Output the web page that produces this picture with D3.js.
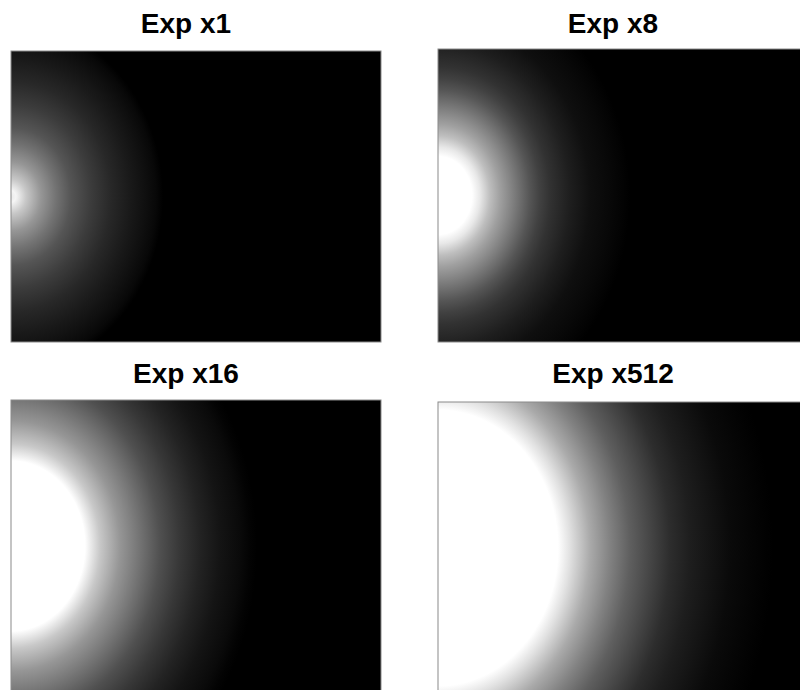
<!DOCTYPE html>
<html>
<head>
    <title>exposure panels</title>
    <script src="https://d3js.org/d3.v7.min.js"></script>
    <style>
        body { margin: 0; background: #fff; }
        .title {
            font-family: 'Liberation Sans', Arial, sans-serif;
            font-size: 28px;
            font-weight: bold;
            fill: #000;
        }
    </style>
</head>
<body>
    <svg id="viz" width="800" height="690"></svg>

    <script>
        // exposure multiplier of each panel
        var exposures = [1, 8, 16, 512];

        // radial brightness profile read along the middle row, distance from the left edge (px) -> gray 0..255
        var radii1   = [0, 5, 15, 30, 45, 60, 80, 100, 120, 135, 145, 152];
        var gray1    = [235, 245, 200, 150, 115, 85, 60, 40, 25, 15, 8, 0];

        var radii8   = [0, 34, 42, 52, 62, 72, 82, 92, 102, 112, 132, 152, 172, 185, 192];
        var gray8    = [255, 255, 232, 190, 160, 135, 110, 85, 65, 50, 30, 15, 8, 3, 0];

        var radii16  = [0, 74, 89, 109, 129, 149, 169, 189, 209, 229, 239, 246];
        var gray16   = [255, 255, 200, 150, 115, 80, 55, 35, 20, 10, 3, 0];

        var radii512 = [0, 120, 132, 152, 172, 192, 212, 232, 252, 272, 292, 312, 325, 335];
        var gray512  = [255, 255, 225, 170, 130, 95, 70, 45, 30, 20, 10, 5, 2, 0];

        var profiles = [
            {r: radii1, g: gray1},
            {r: radii8, g: gray8},
            {r: radii16, g: gray16},
            {r: radii512, g: gray512}
        ];

        // panel frames
        var panels = [
            {x: 11,  y: 51,  w: 370, h: 291},
            {x: 438, y: 49,  w: 370, h: 293},
            {x: 11,  y: 400, w: 370, h: 292},
            {x: 438, y: 402, w: 370, h: 292}
        ];
        var titleY = [33, 33, 383, 383];
        var stretchY = 1.15;

        var svg = d3.select("#viz");
        var defs = svg.append("defs");

        exposures.forEach(function(k, i)
        {
            var p = panels[i];
            var prof = profiles[i];
            var rMax = d3.max(prof.r);
            var cx = p.x;
            var cy = p.y + p.h / 2;

            var off = d3.scaleLinear().domain([0, rMax]).range([0, 1]);

            var grad = defs.append("radialGradient")
                .attr("id", "glow" + i)
                .attr("gradientUnits", "userSpaceOnUse")
                .attr("cx", cx).attr("cy", cy)
                .attr("fx", cx).attr("fy", cy)
                .attr("r", rMax)
                .attr("gradientTransform", "translate(" + cx + "," + cy + ") scale(1," + stretchY + ") translate(" + (-cx) + "," + (-cy) + ")");

            grad.selectAll("stop")
                .data(d3.range(prof.r.length))
                .enter().append("stop")
                .attr("offset", function(j) { return off(prof.r[j]); })
                .attr("stop-color", function(j)
                                    {
                                        var v = prof.g[j];
                                        return d3.rgb(v, v, v).toString();
                                    });

            svg.append("rect")
                .attr("x", p.x).attr("y", p.y)
                .attr("width", p.w).attr("height", p.h)
                .attr("fill", "url(#glow" + i + ")")
                .attr("stroke", "#8a8a8a")
                .attr("stroke-width", 1);

            svg.append("text")
                .attr("class", "title")
                .attr("x", p.x + p.w / 2 - 10)
                .attr("y", titleY[i])
                .attr("text-anchor", "middle")
                .text("Exp x" + k);
        });
    </script>
</body>
</html>
